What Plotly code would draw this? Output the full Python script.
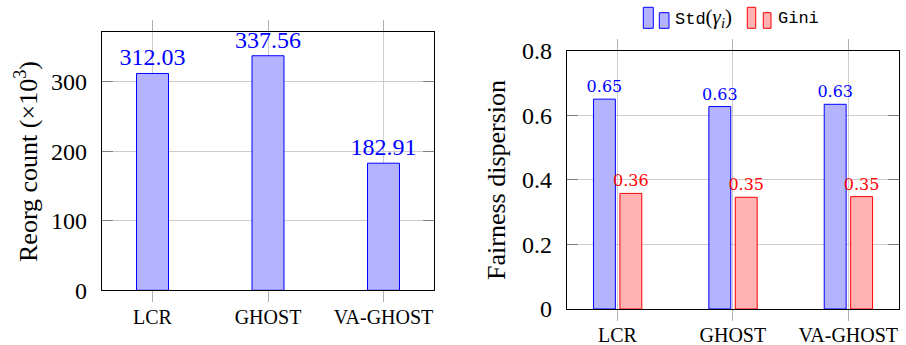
import plotly.graph_objects as go

# ---- data ----
categories = ["LCR", "GHOST", "VA-GHOST"]
reorg_count = [312.03, 337.56, 182.91]
std_gamma = [0.65, 0.627, 0.634]
gini = [0.358, 0.346, 0.348]
left_yticks = [0, 100, 200, 300]
right_yticks = [0, 0.2, 0.4, 0.6, 0.8]

W, H = 906, 345
def PX(p): return p / W
def PY(p): return 1 - p / H

BLUE_FILL = "rgb(179,179,255)"
RED_FILL = "rgb(255,179,179)"
SERIF = "Liberation Serif"

fig = go.Figure()

fig.add_trace(go.Bar(
    x=categories, y=reorg_count, xaxis="x", yaxis="y",
    width=0.277, marker=dict(color=BLUE_FILL, line=dict(color="blue", width=1)),
    texttemplate="%{y:.2f}", textposition="outside", cliponaxis=False,
    constraintext="none",
    textfont=dict(family=SERIF, size=24, color="blue"), showlegend=False,
))
fig.add_trace(go.Bar(
    x=categories, y=std_gamma, xaxis="x2", yaxis="y2",
    width=0.19, offset=-0.208,
    marker=dict(color=BLUE_FILL, line=dict(color="blue", width=1)),
    texttemplate="%{y:.2f}", textposition="outside", cliponaxis=False,
    constraintext="none",
    textfont=dict(family="DejaVu Serif", size=16, color="blue"), showlegend=False,
))
fig.add_trace(go.Bar(
    x=categories, y=gini, xaxis="x2", yaxis="y2",
    width=0.19, offset=0.021,
    marker=dict(color=RED_FILL, line=dict(color="red", width=1)),
    texttemplate="%{y:.2f}", textposition="outside", cliponaxis=False,
    constraintext="none",
    textfont=dict(family="DejaVu Serif", size=16, color="red"), showlegend=False,
))

xcommon = dict(
    type="category", range=[-0.44, 2.44], showgrid=True, gridcolor="#cccccc", gridwidth=1,
    showline=True, linecolor="black", linewidth=1, mirror="ticks",
    ticks="outside", ticklen=11, tickcolor="#b0b0b0", tickwidth=1,
    automargin=False,
)
ycommon = dict(
    showgrid=True, gridcolor="#cccccc", gridwidth=1, zeroline=False,
    showline=True, linecolor="black", linewidth=1, mirror="ticks",
    ticks="inside", ticklen=11, tickcolor="#808080", tickwidth=1,
    tickfont=dict(family=SERIF, size=24, color="black"),
    ticklabelstandoff=9, automargin=False,
)

fig.update_layout(
    width=W, height=H, margin=dict(l=0, r=0, t=0, b=0, autoexpand=False),
    paper_bgcolor="white", plot_bgcolor="white", barmode="overlay", showlegend=False,
    xaxis=dict(xcommon, domain=[PX(101.7), PX(434.3)], anchor="y",
               tickfont=dict(family=SERIF, size=20, color="black"), ticklabelstandoff=-2),
    yaxis=dict(ycommon, domain=[PY(290.3), PY(32.3)], range=[0, 371.3],
               tickvals=left_yticks, ticktext=[str(v) for v in left_yticks], anchor="x"),
    xaxis2=dict(xcommon, domain=[PX(566.7), PX(899)], anchor="y2",
                tickfont=dict(family=SERIF, size=20, color="black"), ticklabelstandoff=-3),
    yaxis2=dict(ycommon, domain=[PY(309), PY(50.7)], range=[0, 0.8],
                tickvals=right_yticks, ticktext=["0", "0.2", "0.4", "0.6", "0.8"], anchor="x2"),
)

ann = []
ann.append(dict(text="Reorg count (×10<sup>3</sup>)", x=PX(26.5), y=PY(161.5),
                xref="paper", yref="paper", textangle=-90, showarrow=False,
                xanchor="center", yanchor="middle", font=dict(family=SERIF, size=26, color="black")))
ann.append(dict(text="Fairness dispersion", x=PX(496), y=PY(180),
                xref="paper", yref="paper", textangle=-90, showarrow=False,
                xanchor="center", yanchor="middle", font=dict(family=SERIF, size=26, color="black")))

# legend (manual, pgfplots ybar style: two small bars)
shapes = []
def legend_glyph(x1a, x1b, x2a, x2b, fill, line):
    shapes.append(dict(type="rect", xref="paper", yref="paper",
                       x0=PX(x1a), x1=PX(x1b), y0=PY(28.3), y1=PY(7.3),
                       fillcolor=fill, line=dict(color=line, width=1)))
    shapes.append(dict(type="rect", xref="paper", yref="paper",
                       x0=PX(x2a), x1=PX(x2b), y0=PY(28.3), y1=PY(12.7),
                       fillcolor=fill, line=dict(color=line, width=1)))
legend_glyph(643.3, 653.3, 659.3, 669.0, BLUE_FILL, "blue")
legend_glyph(747.3, 755.7, 763.3, 771.0, RED_FILL, "red")

ann.append(dict(text='<span style="font-family:Liberation Mono;font-size:17px">Std</span>(<i>γ</i><sub><i>i</i></sub>)',
                x=PX(673.0), y=PY(18.5), xref="paper", yref="paper", showarrow=False,
                xanchor="left", yanchor="middle", font=dict(family=SERIF, size=21, color="black")))
ann.append(dict(text="Gini", x=PX(776.0), y=PY(18.5), xref="paper", yref="paper", showarrow=False,
                xanchor="left", yanchor="middle", font=dict(family="Liberation Mono", size=17, color="black")))

fig.update_layout(annotations=ann, shapes=shapes)
fig.write_html("out.html")
